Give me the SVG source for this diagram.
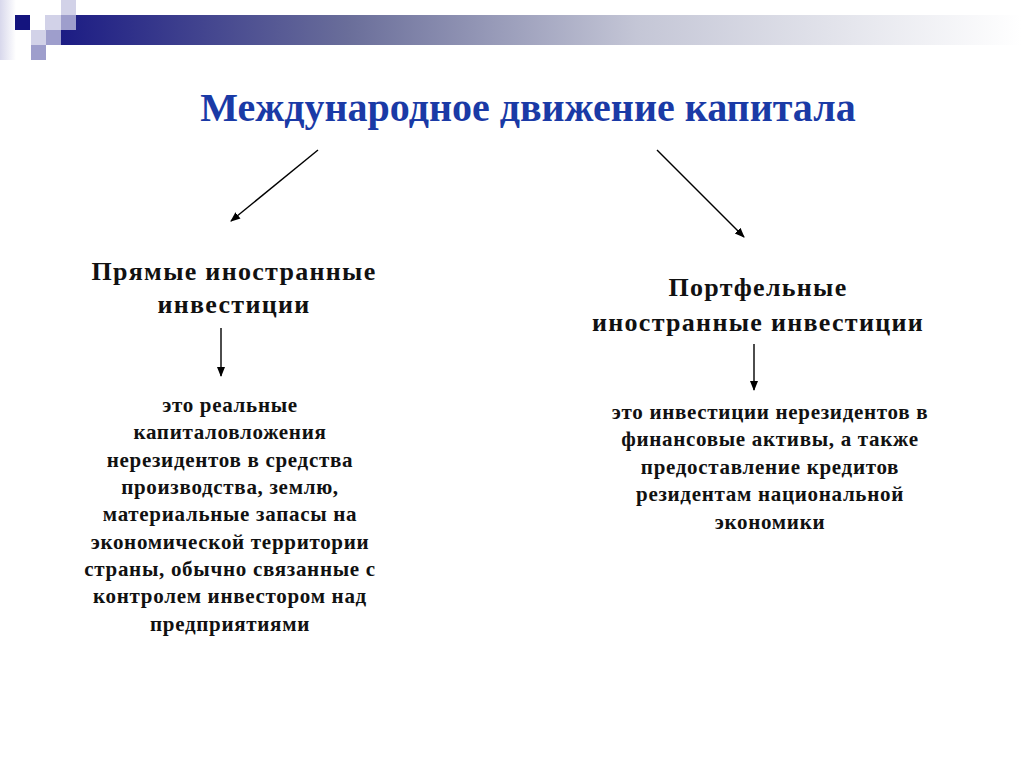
<svg xmlns="http://www.w3.org/2000/svg" width="1024" height="768" viewBox="0 0 1024 768">
<defs>
<linearGradient id="bar" x1="0" y1="0" x2="1" y2="0">
<stop offset="0" stop-color="#1c1c84"/>
<stop offset="0.3" stop-color="#6a6e9a"/>
<stop offset="0.6" stop-color="#c4c6d6"/>
<stop offset="1" stop-color="#ffffff"/>
</linearGradient>
<linearGradient id="edge" x1="0" y1="0" x2="1" y2="0">
<stop offset="0" stop-color="#d8d8ec"/>
<stop offset="1" stop-color="#ffffff"/>
</linearGradient>
<marker id="ah" viewBox="0 0 10 10" refX="9" refY="5" markerWidth="10" markerHeight="10" markerUnits="userSpaceOnUse" orient="auto">
<path d="M0,1 L10,5 L0,9 z" fill="#000"/>
</marker>
<style>
.title{font-family:"Liberation Serif","Times New Roman",serif;font-weight:bold;font-size:40px;fill:#1a3aa6;text-anchor:middle}
.head{font-family:"Liberation Serif","Times New Roman",serif;font-weight:bold;font-size:26px;letter-spacing:1.3px;fill:#111;text-anchor:middle}
.body{font-family:"Liberation Serif","Times New Roman",serif;font-weight:bold;font-size:21px;letter-spacing:0.7px;fill:#111;text-anchor:middle}
.conn{stroke:#000;stroke-width:1.4;fill:none;marker-end:url(#ah)}
</style>
</defs>
<rect width="1024" height="768" fill="#fff"/>
<g id="header">
<rect x="0" y="0" width="16" height="60" fill="url(#edge)"/>
<rect x="61" y="15" width="960" height="30" fill="url(#bar)"/>
<rect x="61" y="0" width="15" height="15" fill="#d2d2e8"/>
<rect x="15" y="15" width="15" height="15" fill="#14147e"/>
<rect x="45" y="15" width="16" height="15" fill="#d2d2e8"/>
<rect x="61" y="15" width="15" height="15" fill="#9e9ecc"/>
<rect x="31" y="30" width="15" height="15" fill="#d2d2e8"/>
<rect x="46" y="30" width="15" height="15" fill="#9e9ecc"/>
<rect x="31" y="45" width="15" height="15" fill="#9e9ecc"/>
</g>
<g id="title"><text class="title" x="528" y="121">Международное движение капитала</text></g>
<g id="connectors">
<line class="conn" x1="318" y1="150" x2="231" y2="221"/>
<line class="conn" x1="657" y1="150" x2="744" y2="237"/>
<line class="conn" x1="221" y1="328" x2="221" y2="376"/>
<line class="conn" x1="754" y1="344" x2="754" y2="390"/>
</g>
<g id="direct">
<text class="head" x="234" y="280">Прямые иностранные</text>
<text class="head" x="234" y="313">инвестиции</text>
</g>
<g id="portfolio">
<text class="head" x="758" y="296">Портфельные</text>
<text class="head" x="758" y="331">иностранные инвестиции</text>
</g>
<g id="direct-def">
<text class="body" x="230" y="412">это реальные</text>
<text class="body" x="230" y="439">капиталовложения</text>
<text class="body" x="230" y="467">нерезидентов в средства</text>
<text class="body" x="230" y="494">производства, землю,</text>
<text class="body" x="230" y="521">материальные запасы на</text>
<text class="body" x="230" y="549">экономической территории</text>
<text class="body" x="230" y="576">страны, обычно связанные с</text>
<text class="body" x="230" y="603">контролем инвестором над</text>
<text class="body" x="230" y="631">предприятиями</text>
</g>
<g id="portfolio-def">
<text class="body" x="770" y="419">это инвестиции нерезидентов в</text>
<text class="body" x="770" y="446">финансовые активы, а также</text>
<text class="body" x="770" y="474">предоставление кредитов</text>
<text class="body" x="770" y="501">резидентам национальной</text>
<text class="body" x="770" y="529">экономики</text>
</g>
</svg>
